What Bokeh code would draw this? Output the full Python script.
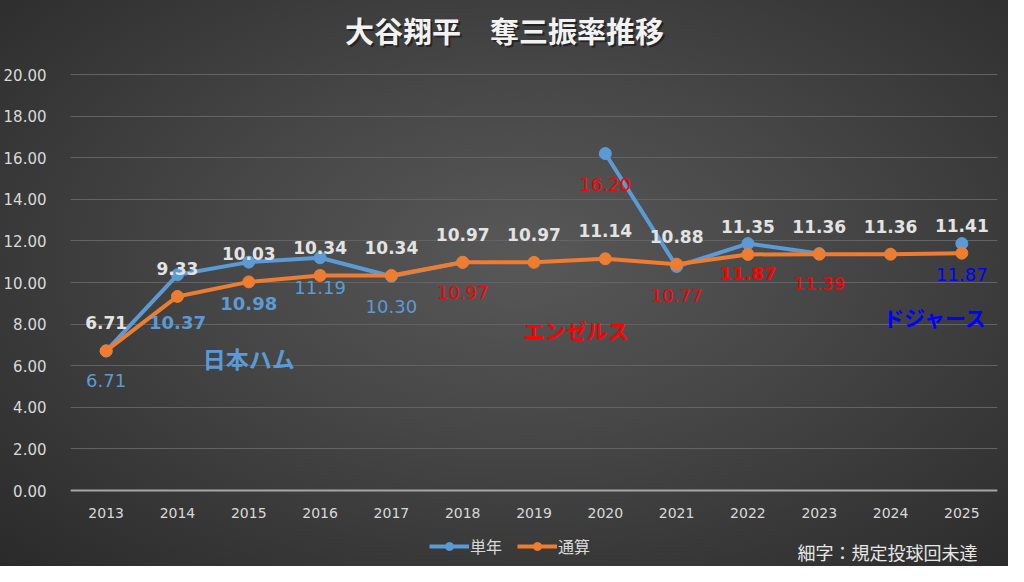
import math
from bokeh.plotting import figure
from bokeh.models import (ColumnDataSource, Range1d, FixedTicker, NumeralTickFormatter,
                          Label, Legend, LegendItem)
from bokeh.core.properties import value
from bokeh.embed import file_html
from bokeh.resources import INLINE

nan = float("nan")

# ---- data ----
years = [str(y) for y in range(2013, 2026)]
single = [6.71, 10.37, 10.98, 11.19, 10.30, 10.97, nan, 16.20, 10.77, 11.87, 11.39, nan, 11.87]
total = [6.71, 9.33, 10.03, 10.34, 10.34, 10.97, 10.97, 11.14, 10.88, 11.35, 11.36, 11.36, 11.41]
y_ticks = [0, 2, 4, 6, 8, 10, 12, 14, 16, 18, 20]
title_text = "大谷翔平　奪三振率推移"
series_names = ["単年", "通算"]
team_names = ["日本ハム", "エンゼルス", "ドジャース"]
note_text = "細字：規定投球回未達"

# ---- styles for the single-season labels (colour by team, bold = qualified) ----
single_label_color = ["#5B9BD5"] * 5 + ["#FF0000"] * 6 + ["#0000FF"] * 2
single_label_style = ["normal", "bold", "bold", "normal", "normal", "normal", "normal",
                      "normal", "normal", "bold", "normal", "normal", "normal"]
single_label_dy = [30, 48, 41, 30, 30, 30, 30, 31, 29, 30, 30, 30, 31]

BLUE = "#5B9BD5"
ORANGE = "#ED7D31"
TEXT = "#D9D9D9"
NUMFONT = value("DejaVu Sans")

W, H = 1008, 566
LEFT, RIGHT = 68, 11
Y0_PX, Y20_PX = 490, 74           # pixel rows of value 0 and value 20
ppu = (Y0_PX - Y20_PX) / 20.0
y_start = -(H - Y0_PX) / ppu
y_end = 20 + Y20_PX / ppu

p = figure(x_range=years, y_range=Range1d(y_start, y_end), width=W, height=H,
           output_backend="svg", toolbar_location=None,
           min_border_left=LEFT, min_border_right=RIGHT, min_border_top=0, min_border_bottom=0)
p.styles = {"background": "radial-gradient(ellipse at 52% 45%, #585858 0%, #474747 40%, #2a2a2a 100%)"}
p.background_fill_alpha = 0
p.border_fill_alpha = 0
p.outline_line_color = None

# axes
p.yaxis.ticker = FixedTicker(ticks=y_ticks)
p.yaxis.formatter = NumeralTickFormatter(format="0.00")
p.yaxis.axis_line_color = None
p.yaxis.major_tick_line_color = None
p.yaxis.minor_tick_line_color = None
p.yaxis.major_label_standoff = 18
p.yaxis.major_label_text_color = TEXT
p.yaxis.major_label_text_font = "DejaVu Sans"
p.yaxis.major_label_text_font_size = "15px"

p.xaxis.fixed_location = 0
p.xaxis.axis_line_color = "#A6A6A6"
p.xaxis.axis_line_width = 2
p.xaxis.major_tick_line_color = None
p.xaxis.minor_tick_line_color = None
p.xaxis.major_label_standoff = 11
p.xaxis.major_label_text_color = TEXT
p.xaxis.major_label_text_font = "DejaVu Sans"
p.xaxis.major_label_text_font_size = "14px"

p.xgrid.grid_line_color = None
p.ygrid.ticker = FixedTicker(ticks=y_ticks)
p.ygrid.grid_line_color = "#636363"
p.ygrid.grid_line_width = 1

src = ColumnDataSource(dict(x=years, single=single, total=total))

l1 = p.line("x", "single", source=src, color=BLUE, line_width=4)
s1 = p.scatter("x", "single", source=src, color=BLUE, size=12)
l2 = p.line("x", "total", source=src, color=ORANGE, line_width=4)
s2 = p.scatter("x", "total", source=src, color=ORANGE, size=12)

# cumulative labels (above)
p.text(x=years, y=total, text=[f"{v:.2f}" for v in total], y_offset=-28,
       text_align="center", text_baseline="middle", text_font=NUMFONT,
       text_font_style="bold", text_font_size="17px", text_color="#E3E3E3")

# single-season labels (below)
idx = [i for i, v in enumerate(single) if not math.isnan(v)]
lab_src = ColumnDataSource(dict(
    x=[years[i] for i in idx],
    y=[single[i] for i in idx],
    t=[f"{single[i]:.2f}" for i in idx],
    c=[single_label_color[i] for i in idx],
    s=[single_label_style[i] for i in idx],
    dy=[single_label_dy[i] for i in idx],
))
p.text(x="x", y="y", text="t", source=lab_src, y_offset="dy",
       text_align="center", text_baseline="middle", text_font=NUMFONT,
       text_font_style="s", text_font_size="18px", text_color="c")

# team annotations
p.add_layout(Label(x=2.5, y=6.35, text=team_names[0], text_align="center", text_baseline="middle",
                   text_font="Noto Sans CJK JP", text_font_style="bold", text_font_size="23px",
                   text_color=BLUE))
p.add_layout(Label(x=7.09, y=7.74, text=team_names[1], text_align="center", text_baseline="middle",
                   text_font="Noto Sans CJK JP", text_font_style="bold", text_font_size="21px",
                   text_color="#FF0000"))
p.add_layout(Label(x=12.13, y=8.32, text=team_names[2], text_align="center", text_baseline="middle",
                   text_font="Noto Sans CJK JP", text_font_style="bold", text_font_size="21px",
                   text_color="#0000FF"))

# title (with soft shadow)
p.add_layout(Label(x=436, y=535, x_units="screen", y_units="screen", text=title_text,
                   text_align="center", text_baseline="middle", text_font="Noto Sans CJK JP",
                   text_font_style="bold", text_font_size="29px", text_color="#000000",
                   text_alpha=0.45))
p.add_layout(Label(x=434, y=537, x_units="screen", y_units="screen", text=title_text,
                   text_align="center", text_baseline="middle", text_font="Noto Sans CJK JP",
                   text_font_style="bold", text_font_size="29px", text_color="#F2F2F2"))

# note
p.add_layout(Label(x=727, y=15, x_units="screen", y_units="screen", text=note_text,
                   text_align="left", text_baseline="middle", text_font="Noto Sans CJK JP",
                   text_font_size="18px", text_color="#E6E6E6"))

legend = Legend(items=[LegendItem(label=series_names[0], renderers=[l1, s1]),
                       LegendItem(label=series_names[1], renderers=[l2, s2])],
                orientation="horizontal", location=(359, 8))
legend.background_fill_alpha = 0
legend.border_line_color = None
legend.padding = 0
legend.margin = 0
legend.spacing = 15
legend.glyph_width = 40
legend.glyph_height = 20
legend.label_standoff = 1
legend.label_text_font = "Noto Sans CJK JP"
legend.label_text_font_size = "16px"
legend.label_text_color = TEXT
p.add_layout(legend, "center")

open("out.html", "w").write(file_html(p, INLINE))
